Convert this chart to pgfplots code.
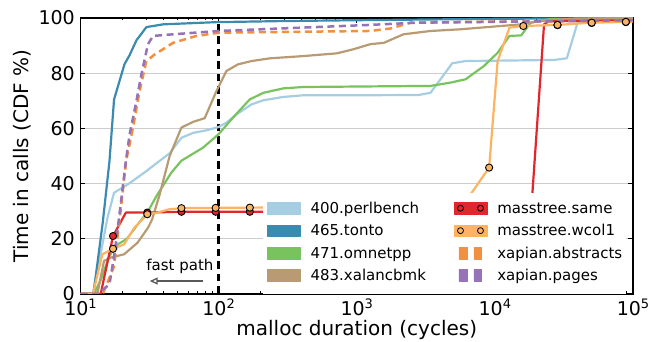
\documentclass[border=0pt]{standalone}
\usepackage{fontspec}
\setmainfont{DejaVu Sans}
\usepackage{pgfplots}
\pgfplotsset{compat=1.18}
\usetikzlibrary{arrows.meta}
\definecolor{c400}{HTML}{A6CEE3}
\definecolor{c465}{HTML}{3B8BB0}
\definecolor{c471}{HTML}{79C35F}
\definecolor{c483}{HTML}{B99B73}
\definecolor{csame}{HTML}{E3262B}
\definecolor{cwcol}{HTML}{FDB462}
\definecolor{cabs}{HTML}{F09040}
\definecolor{cpag}{HTML}{9673B9}
\newcommand{\tickfont}{\fontsize{19bp}{22bp}\selectfont}
\newcommand{\supfont}{\fontsize{13bp}{14bp}\selectfont}
\newcommand{\pw}[1]{10\raisebox{7bp}{\supfont #1}}
\begin{document}
\begin{tikzpicture}
\useasboundingbox (-80.5bp,-48bp) rectangle (570.5bp,294bp);
\begin{axis}[
  scale only axis, width=552.5bp, height=276bp,
  xmode=log, xmin=10, xmax=100000, ymin=0, ymax=100,
  xtick={10,100,1000,10000,100000},
  xticklabels={\pw{1},\pw{2},\pw{3},\pw{4},\pw{5}},
  minor xtick={20,30,40,50,60,70,80,90,200,300,400,500,600,700,800,900,2000,3000,4000,5000,6000,7000,8000,9000,20000,30000,40000,50000,60000,70000,80000,90000},
  ytick={0,20,40,60,80,100}, yticklabels={0,20,40,60,80,100},
  tick align=inside,
  major tick length=5bp, minor tick length=2.5bp,
  tick style={black, line width=0.8bp},
  axis line style={black, line width=1.1bp},
  ymajorgrids, grid style={color=black!20, line width=1bp},
  xticklabel style={font=\tickfont, anchor=base, inner sep=0pt, yshift=-21bp},
  yticklabel style={font=\tickfont, anchor=east, inner sep=0pt, xshift=-5.5bp},
  xlabel={malloc duration (cycles)},
  ylabel={Time in calls (CDF \%)},
  xlabel style={font=\fontsize{20bp}{24bp}\selectfont, at={(axis description cs:0.5,0)}, anchor=base, yshift=-41bp},
  ylabel style={font=\fontsize{20bp}{24bp}\selectfont, at={(axis description cs:-0.1063,0.5)}, rotate=0, anchor=center},
  legend columns=2,
  legend cell align=left,
  legend style={at={(axis description cs:0.3303,0.366)}, anchor=north west,
    fill=white, draw=none, inner xsep=3.7bp, inner ysep=9bp,
    font=\fontsize{15bp}{18bp}\selectfont,
    nodes={inner sep=0pt, text height=11bp, text depth=4bp},
    row sep=7bp, column sep=10bp},
  every axis plot/.append style={line join=round},
]
% fast path marker
\addplot[black, line width=2.5bp, dash pattern=on 7.5bp off 5bp, forget plot] coordinates {(100,0) (100,100)};

% 400.perlbench
\addplot[c400, line width=2.2bp, forget plot] coordinates {
(10,0)(12.3,0)(15.7,27.7)(17.5,36.7)(22,39.7)(29,44)(36,47.6)(44.2,51)(53.8,56.6)(65.6,58.4)(81.6,59.3)(100,60.5)(114,62.1)(135,65.1)(173,68.7)(211,70.2)(294,71.4)(410,72)(900,72)(2800,72.1)(3420,72.9)(4040,77.8)(4910,83.6)(6140,84.4)(26800,84.8)(33200,85.4)(39700,98.3)(60000,99.5)(100000,100)};
% 465.tonto
\addplot[c465, line width=2.2bp, forget plot] coordinates {
(10,0)(12.4,0)(14.5,26)(16.2,48)(17.5,70.5)(20.8,83.2)(22.7,86.6)(25.4,91.9)(30,96.7)(39.6,97.7)(96.6,98.5)(300,98.9)(1000,99.2)(10000,99.7)(100000,100)};
% 471.omnetpp
\addplot[c471, line width=2.2bp, forget plot] coordinates {
(10,0)(12.5,0)(14,5)(16,13)(17.7,17.4)(20.8,19.4)(22,20.4)(25.4,24.6)(30.8,30)(36,36)(45.5,44)(53.8,48.3)(77,53)(100,57.9)(127,63.9)(168,70.5)(211,72.9)(294,74.5)(410,75)(3420,75.4)(4780,76.6)(6140,77.8)(8330,82.6)(10470,87.4)(12750,93.5)(15500,93.7)(18200,98.3)(25000,99.6)(100000,100)};
% 483.xalancbmk
\addplot[c483, line width=2.2bp, forget plot] coordinates {
(10,0)(13.3,0.5)(14.8,12)(16.6,13.2)(20.7,14.4)(25.9,18.6)(30.8,24)(33,27)(37.4,36)(44.2,50)(53.8,60.3)(65.6,62.4)(79.3,63.7)(96.6,73.6)(114,80.8)(138,83.2)(173,84.4)(236,85.4)(410,86.2)(719,87.2)(950,88.7)(1250,90.5)(1570,91)(2180,94.1)(3420,95.3)(5600,95.9)(15500,97.7)(20000,98.7)(30000,99.5)(100000,100)};
% masstree.same
\addplot[csame, line width=2.2bp, forget plot] coordinates {
(9.74,0)(14,0)(17.2,21)(21.3,29.5)(30.45,29.5)(53.8,29.8)(95.2,29.8)(168.3,29.8)(18300,29.8)(22700,97.7)(24500,98.8)(100000,99.2)};
\addplot[only marks, mark=*, mark size=3.6bp, mark options={fill=csame, draw=black, line width=0.9bp}, forget plot] coordinates {
(9.74,0)(17.2,21)(30.45,29.5)(53.8,29.8)(95.2,29.8)(168.3,29.8)(297.6,29.8)(526,29.8)(930,29.8)(1644,29.8)(2908,29.8)(5140,29.8)(9090,29.8)(16070,29.8)(28410,97.4)(50230,98.2)(88820,98.5)};
% masstree.wcol1
\addplot[cwcol, line width=2.2bp, forget plot] coordinates {
(9.74,0)(12.3,0)(14.4,14.4)(17.2,16.4)(20.7,18)(24.5,24)(30.45,28.9)(36,29.5)(44,30.7)(53.8,31.1)(95.2,31.2)(168.3,31.3)(2908,31.4)(5700,31.6)(6670,36.1)(9090,45.8)(10470,84.4)(12750,96.5)(16070,97.1)(28410,97.5)(50230,98.3)(88820,98.6)(100000,98.7)};
\addplot[only marks, mark=*, mark size=3.6bp, mark options={fill=cwcol, draw=black, line width=0.9bp}, forget plot] coordinates {
(9.74,0)(17.2,16.4)(30.45,28.9)(53.8,31.1)(95.2,31.2)(168.3,31.3)(297.6,31.3)(526,31.4)(930,31.4)(1644,31.4)(2908,31.4)(5140,31.5)(9090,45.8)(16070,97.1)(28410,97.5)(50230,98.3)(88820,98.6)};
% xapian.abstracts
\addplot[cabs, line width=2.5bp, dash pattern=on 7bp off 4.5bp, forget plot] coordinates {
(10,0)(14.5,0)(17.5,10)(19.5,30)(21.4,48.2)(24,60.3)(26.8,73.6)(30,84.4)(34.5,86.8)(46.8,91)(69,93.5)(102,94.7)(1250,95.3)(1750,96.2)(2450,98.3)(10000,98.7)(100000,99)};
% xapian.pages
\addplot[cpag, line width=2.5bp, dash pattern=on 7bp off 4.5bp, forget plot] coordinates {
(10,0)(13.3,0)(16.2,3.5)(17.6,14.4)(19.5,32)(21.3,48.2)(22.7,57.9)(25.4,69.9)(27.6,79.6)(30.8,90.5)(33.5,93.5)(46.8,94.1)(100,95.3)(1250,97.5)(2700,98.3)(15000,98.7)(100000,99.2)};

\node[font=\fontsize{15bp}{18bp}\selectfont, anchor=base, inner sep=0pt] at (axis cs:52.5,8.6) {fast path};
\draw[black!65, line width=1.3bp, -{Triangle[open, length=8bp, width=7bp]}] (axis cs:77.3,4.7) -- (axis cs:31.7,4.7);

% legend
\addlegendimage{legend image code/.code={\fill[c400] (0bp,-4bp) rectangle (33.3bp,7.7bp);}}
\addlegendentry{\makebox[133bp][l]{400.perlbench}}
\addlegendimage{legend image code/.code={\fill[csame] (0bp,-4bp) rectangle (33.3bp,7.7bp); \draw[black, line width=0.8bp] (6.7bp,1.85bp) circle (3bp) (26.7bp,1.85bp) circle (3bp);}}
\addlegendentry{masstree.same}
\addlegendimage{legend image code/.code={\fill[c465] (0bp,-4bp) rectangle (33.3bp,7.7bp);}}
\addlegendentry{\makebox[133bp][l]{465.tonto}}
\addlegendimage{legend image code/.code={\fill[cwcol] (0bp,-4bp) rectangle (33.3bp,7.7bp); \draw[black, line width=0.8bp] (6.7bp,1.85bp) circle (3bp) (26.7bp,1.85bp) circle (3bp);}}
\addlegendentry{masstree.wcol1}
\addlegendimage{legend image code/.code={\fill[c471] (0bp,-4bp) rectangle (33.3bp,7.7bp);}}
\addlegendentry{\makebox[133bp][l]{471.omnetpp}}
\addlegendimage{legend image code/.code={\fill[cabs] (5bp,-4bp) rectangle (13.5bp,7.7bp) (20bp,-4bp) rectangle (27.5bp,7.7bp);}}
\addlegendentry{xapian.abstracts}
\addlegendimage{legend image code/.code={\fill[c483] (0bp,-4bp) rectangle (33.3bp,7.7bp);}}
\addlegendentry{\makebox[133bp][l]{483.xalancbmk}}
\addlegendimage{legend image code/.code={\fill[cpag] (5bp,-4bp) rectangle (13.5bp,7.7bp) (20bp,-4bp) rectangle (27.5bp,7.7bp);}}
\addlegendentry{xapian.pages}
\end{axis}
\end{tikzpicture}
\end{document}
